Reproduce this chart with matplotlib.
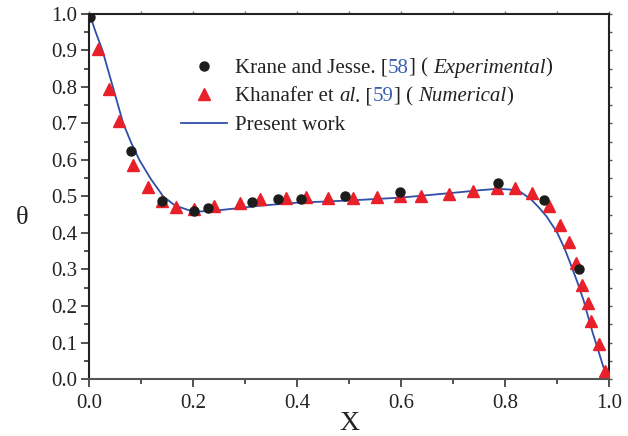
import matplotlib
matplotlib.use("Agg")
import matplotlib.pyplot as plt
from matplotlib.lines import Line2D
from matplotlib.offsetbox import (AnchoredOffsetbox, DrawingArea, HPacker,
                                  TextArea, VPacker)
from matplotlib.ticker import MultipleLocator

plt.rcParams['font.family'] = ['Liberation Serif', 'DejaVu Serif']

# Krane and Jesse (experimental)
exp_x = [0.001, 0.079, 0.139, 0.202, 0.229, 0.312, 0.362, 0.408, 0.492,
         0.598, 0.787, 0.874, 0.943]
exp_y = [0.991, 0.624, 0.488, 0.461, 0.468, 0.486, 0.494, 0.494, 0.501,
         0.512, 0.536, 0.490, 0.300]

# Khanafer et al. (numerical)
num_x = [0.017, 0.038, 0.057, 0.084, 0.113, 0.140, 0.166, 0.202, 0.240,
         0.290, 0.328, 0.378, 0.417, 0.459, 0.507, 0.554, 0.598, 0.639,
         0.692, 0.738, 0.785, 0.819, 0.851, 0.885, 0.905, 0.923, 0.937,
         0.948, 0.959, 0.966, 0.980, 0.993]
num_y = [0.904, 0.794, 0.708, 0.587, 0.527, 0.487, 0.472, 0.465, 0.474,
         0.483, 0.492, 0.496, 0.499, 0.496, 0.496, 0.499, 0.501, 0.502,
         0.506, 0.516, 0.523, 0.523, 0.510, 0.475, 0.421, 0.374, 0.319,
         0.258, 0.209, 0.159, 0.096, 0.023]

# present work
cur_x = [0.0, 0.012, 0.025, 0.045, 0.065, 0.080, 0.096, 0.118, 0.142, 0.165,
         0.190, 0.213, 0.240, 0.280, 0.330, 0.400, 0.500, 0.600, 0.700,
         0.750, 0.785, 0.810, 0.830, 0.850, 0.865, 0.880, 0.900, 0.915,
         0.928, 0.940, 0.951, 0.960, 0.969, 0.979, 0.989, 1.0]
cur_y = [1.0, 0.950, 0.900, 0.800, 0.700, 0.648, 0.600, 0.548, 0.500, 0.475,
         0.463, 0.459, 0.461, 0.467, 0.475, 0.483, 0.489, 0.497, 0.510,
         0.517, 0.521, 0.519, 0.512, 0.492, 0.470, 0.445, 0.402, 0.356,
         0.308, 0.262, 0.216, 0.170, 0.125, 0.080, 0.034, 0.0]

black = '#1c1c1c'
red = '#e8202a'
blue = '#2f4fa8'
ref_blue = '#3a5fb0'

fig = plt.figure(figsize=(6.28, 4.36), dpi=100)
ax = fig.add_axes([0.1425, 0.1307, 0.8272, 0.8373])

ax.plot(cur_x, cur_y, color=blue, lw=1.3, zorder=2)
ax.plot(num_x, num_y, ls='none', marker='^', ms=8, color=red, mec=red, zorder=3)
ax.plot(exp_x, exp_y, ls='none', marker='o', ms=6.5, color=black, zorder=4)

ax.set_xlim(0, 1)
ax.set_ylim(0, 1)
ax.xaxis.set_major_locator(MultipleLocator(0.2))
ax.xaxis.set_minor_locator(MultipleLocator(0.1))
ax.yaxis.set_major_locator(MultipleLocator(0.1))
ax.yaxis.set_minor_locator(MultipleLocator(0.05))
ax.xaxis.set_major_formatter(matplotlib.ticker.FormatStrFormatter('%.1f'))
ax.yaxis.set_major_formatter(matplotlib.ticker.FormatStrFormatter('%.1f'))
ax.tick_params(which='major', direction='out', length=6, width=1.2,
               labelsize=15, color='#333333', labelcolor='#222222')
ax.tick_params(axis='x', which='major', pad=5)
ax.tick_params(axis='y', which='major', pad=3)
ax.tick_params(which='minor', direction='out', length=3.5, width=1.2,
               color='#333333')
for s in ax.spines.values():
    s.set_linewidth(1.5)
    s.set_color('#222222')
ax.spines['bottom'].set_color('#555555')

# small ticks on top and right, no labels
top = ax.secondary_xaxis('top')
top.xaxis.set_major_locator(MultipleLocator(0.1))
top.tick_params(direction='out', length=2, width=1, labeltop=False,
                color='#777777')
top.spines['top'].set_visible(False)
right = ax.secondary_yaxis('right')
right.yaxis.set_major_locator(MultipleLocator(0.05))
right.tick_params(direction='out', length=2, width=1, labelright=False,
                  color='#555555')
right.spines['right'].set_visible(False)

ax.set_xlabel('X', fontsize=20, labelpad=-2, color='#222222')
ax.set_ylabel('θ', fontsize=19, rotation=0, va='center', color='#222222')
ax.yaxis.set_label_coords(-0.13, 0.44)

# legend built from pieces so the reference numbers can be blue
fs = 15
def txt(s, **kw):
    props = dict(fontsize=fs, color='#222222')
    props.update(kw)
    return TextArea(s, textprops=props)

def handle(kind):
    da = DrawingArea(33, 12, 0, 0)
    if kind == 'o':
        da.add_artist(Line2D([16.5], [5], ls='none', marker='o', ms=6.5,
                             color=black))
    elif kind == '^':
        da.add_artist(Line2D([16.5], [5], ls='none', marker='^', ms=8,
                             color=red))
    else:
        da.add_artist(Line2D([0, 33], [5, 5], color=blue, lw=1.3))
    return da

row1 = HPacker(children=[handle('o'), HPacker(children=[
    txt('Krane and Jesse. ['), txt('58', color=ref_blue), txt('] ( '),
    txt('Experimental', style='italic'), txt(')')], sep=0, pad=0)],
    sep=6, pad=0, align='baseline')
row2 = HPacker(children=[handle('^'), HPacker(children=[
    txt('Khanafer et '), txt('al', style='italic'), txt('. ['),
    txt('59', color=ref_blue), txt('] ( '),
    txt('Numerical', style='italic'), txt(')')], sep=0, pad=0)],
    sep=6, pad=0, align='baseline')
row3 = HPacker(children=[handle('-'), txt('Present work')], sep=6, pad=0,
               align='baseline')
box = VPacker(children=[row1, row2, row3], sep=5, pad=0, align='left')
leg = AnchoredOffsetbox(loc='upper left', child=box, pad=0, borderpad=0,
                        frameon=False, bbox_to_anchor=(0.176, 0.885),
                        bbox_transform=ax.transAxes)
ax.add_artist(leg)

fig.savefig('out.png', dpi=100)
